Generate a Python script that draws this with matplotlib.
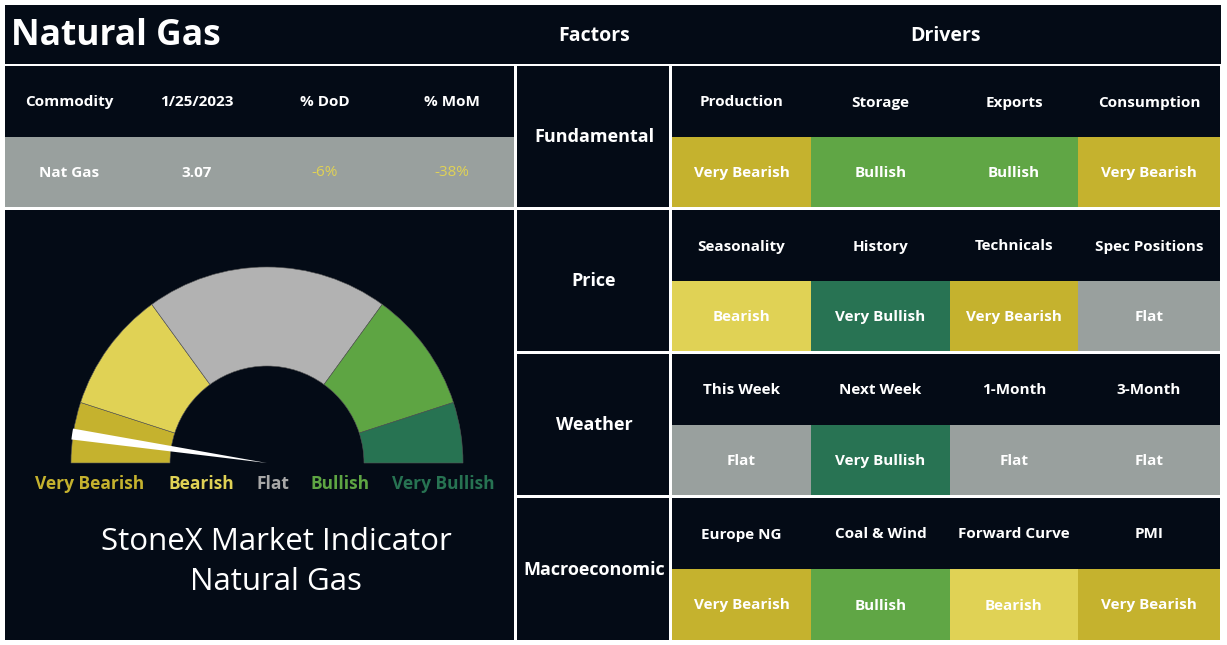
import matplotlib
matplotlib.use("Agg")
import matplotlib.pyplot as plt
from matplotlib.patches import Rectangle, Wedge

# ---------------- data ----------------
title = "Natural Gas"
table_headers = ["Commodity", "1/25/2023", "% DoD", "% MoM"]
table_values = ["Nat Gas", "3.07", "-6%", "-38%"]

factors = ["Fundamental", "Price", "Weather", "Macroeconomic"]
drivers = [
    ["Production", "Storage", "Exports", "Consumption"],
    ["Seasonality", "History", "Technicals", "Spec Positions"],
    ["This Week", "Next Week", "1-Month", "3-Month"],
    ["Europe NG", "Coal & Wind", "Forward Curve", "PMI"],
]
signals = [
    ["Very Bearish", "Bullish", "Bullish", "Very Bearish"],
    ["Bearish", "Very Bullish", "Very Bearish", "Flat"],
    ["Flat", "Very Bullish", "Flat", "Flat"],
    ["Very Bearish", "Bullish", "Bearish", "Very Bearish"],
]

gauge_levels = ["Very Bearish", "Bearish", "Flat", "Bullish", "Very Bullish"]
gauge_shares = [10, 20, 40, 20, 10]      # percent of the half circle
needle_value = 4.7                       # 0 = very bearish end, 100 = very bullish end

# ---------------- style ----------------
W, H = 1227, 645
DARK = "#040B16"
cell_colors = {"Very Bearish": "#C5B22E", "Bearish": "#E0D255", "Flat": "#99A09E",
               "Bullish": "#60A645", "Very Bullish": "#287353"}
gauge_colors = {"Very Bearish": "#C5B22E", "Bearish": "#E0D255", "Flat": "#B2B2B2",
                "Bullish": "#5EA543", "Very Bullish": "#277352"}
label_colors = {"Very Bearish": "#C5B22E", "Bearish": "#E0D255", "Flat": "#A8A8A8",
                "Bullish": "#5EA543", "Very Bullish": "#277352"}
FONT = ["Open Sans", "DejaVu Sans"]
plt.rcParams["font.family"] = FONT

fig = plt.figure(figsize=(W / 100, H / 100), dpi=100, facecolor="white")
ax = fig.add_axes([0, 0, 1, 1])
ax.set_xlim(0, W)
ax.set_ylim(0, H)
ax.set_aspect("equal")
ax.axis("off")


def Y(y):
    return H - y


def rect(x0, y0, x1, y1, color):
    ax.add_patch(Rectangle((x0, Y(y1)), x1 - x0, y1 - y0, facecolor=color,
                           edgecolor="none", zorder=1))


def txt(x, y, s, size, color="white", weight="bold", ha="center", **kw):
    ax.text(x, Y(y), s, fontsize=size, color=color, fontweight=weight, ha=ha,
            va="center", zorder=5, **kw)


# title row
rect(5, 5, 1221, 64, DARK)
txt(11, 36, title, 25.5, ha="left")
txt(594, 36, "Factors", 14)
txt(946, 36, "Drivers", 14)

# commodity table
tx = [5, 133, 261, 389, 514]
rect(5, 66, 514, 137, DARK)
rect(5, 137, 514, 207, "#99A09E")
for i, (h, v) in enumerate(zip(table_headers, table_values)):
    cx = (tx[i] + tx[i + 1]) / 2
    txt(cx, 102, h, 11)
    col = "white"
    if v.startswith("-"):
        col = "#E0D255"
    txt(cx, 173, v, 11, color=col, weight="bold" if i < 2 else "normal")

# factor / driver grid
row_tops = [66, 210, 354, 498]
row_bots = [207, 351, 495, 640]
cols = [672, 811, 950, 1078, 1220]
for r, f in enumerate(factors):
    t, b = row_tops[r], row_bots[r]
    mid = t + 71
    rect(517, t, 669, b, DARK)
    txt(594, (t + b) / 2 + 1, f, 13)
    rect(672, t, 1220, mid, DARK)
    for c in range(4):
        x0, x1 = cols[c], cols[c + 1]
        cx = (x0 + x1) / 2
        rect(x0, mid, x1, b, cell_colors[signals[r][c]])
        txt(cx, (t + mid) / 2 + 1, drivers[r][c], 11)
        txt(cx, (mid + b) / 2 + 1, signals[r][c], 11)

# gauge panel
rect(5, 210, 514, 640, DARK)
gcx, gcy = 267, Y(463)
r_out, r_in = 196, 97
theta = 180.0
for lvl, share in zip(gauge_levels, gauge_shares):
    span = 180.0 * share / 100.0
    ax.add_patch(Wedge((gcx, gcy), r_out, theta - span, theta, width=r_out - r_in,
                       facecolor=gauge_colors[lvl], edgecolor="#555555",
                       linewidth=0.4, zorder=2))
    theta -= span
needle_ang = 180.0 - 180.0 * needle_value / 100.0
ax.add_patch(Wedge((gcx, gcy), r_out + 1, needle_ang - 1.6, needle_ang + 1.6,
                   facecolor="white", edgecolor="none", zorder=3))

label_x = [90, 201, 273, 340, 443]
for lvl, lx in zip(gauge_levels, label_x):
    txt(lx, 484, lvl, 12.5, color=label_colors[lvl])

txt(276, 542, "StoneX Market Indicator", 22.5, weight="normal")
txt(276, 582, "Natural Gas", 22.5, weight="normal")

fig.savefig("out.png", dpi=100, facecolor="white")
